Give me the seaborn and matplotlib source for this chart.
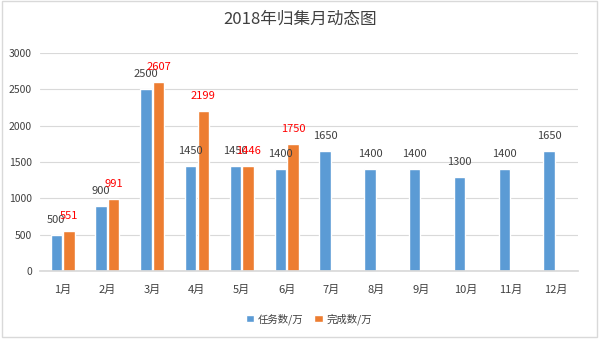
import numpy as np
import pandas as pd
import matplotlib
matplotlib.use("Agg")
import matplotlib.pyplot as plt
import seaborn as sns

months = ["1月", "2月", "3月", "4月", "5月", "6月", "7月", "8月", "9月", "10月", "11月", "12月"]
task = [500, 900, 2500, 1450, 1450, 1400, 1650, 1400, 1400, 1300, 1400, 1650]
done = [551, 991, 2607, 2199, 1446, 1750, np.nan, np.nan, np.nan, np.nan, np.nan, np.nan]
series_names = ["任务数/万", "完成数/万"]
colors = ["#5B9BD5", "#ED7D31"]
yticks = [0, 500, 1000, 1500, 2000, 2500, 3000]

sns.set_theme(style="white")
plt.rcParams["font.family"] = ["Noto Sans CJK SC", "DejaVu Sans"]

df = pd.DataFrame({
    "month": months * 2,
    "value": task + done,
    "series": [series_names[0]] * len(months) + [series_names[1]] * len(months),
})

fig = plt.figure(figsize=(6, 3.4), dpi=100)
ax = fig.add_axes([0.067, 0.203, 0.896, 0.641])

sns.barplot(data=df, x="month", y="value", hue="series", order=months,
            hue_order=series_names, palette=colors, width=0.56, gap=0.08,
            saturation=1, ax=ax, legend=True)

ax.set_ylim(0, 3000)
ax.set_yticks(yticks)
ax.set_yticklabels([str(t) for t in yticks], fontsize=7.5, color="#404040")
ax.set_xlim(-0.5, len(months) - 0.5)
ax.tick_params(axis="x", labelsize=8, colors="#404040", length=0, pad=10)
ax.tick_params(axis="y", length=0, pad=6)
ax.set_xlabel("")
ax.set_ylabel("")
ax.grid(axis="y", color="#D9D9D9", linewidth=0.8)
ax.set_axisbelow(True)
for s in ["top", "right", "left"]:
    ax.spines[s].set_visible(False)
ax.spines["bottom"].set_color("#D9D9D9")

# value labels
for cont, col in zip(ax.containers, ["#404040", "#FF0000"]):
    for rect in cont:
        h = rect.get_height()
        if np.isnan(h) or h == 0:
            continue
        ax.annotate(f"{int(h)}", (rect.get_x() + rect.get_width() / 2, h),
                    xytext=(0, 10), textcoords="offset pixels",
                    ha="center", va="bottom", fontsize=8, color=col)

leg = ax.legend(loc="upper center", bbox_to_anchor=(0.5, -0.15), ncol=2,
                frameon=False, fontsize=7.5, handlelength=0.8, handleheight=0.8,
                handletextpad=0.4, columnspacing=1.0)
for t in leg.get_texts():
    t.set_color("#404040")

fig.text(0.5, 0.945, "2018年归集月动态图", ha="center", va="center",
         fontsize=12, color="#404040")

fig.patches.append(plt.Rectangle((0.003, 0.008), 0.992, 0.988, transform=fig.transFigure,
                                 fill=False, edgecolor="#D9D9D9", linewidth=1))

fig.savefig("out.png", dpi=100)
